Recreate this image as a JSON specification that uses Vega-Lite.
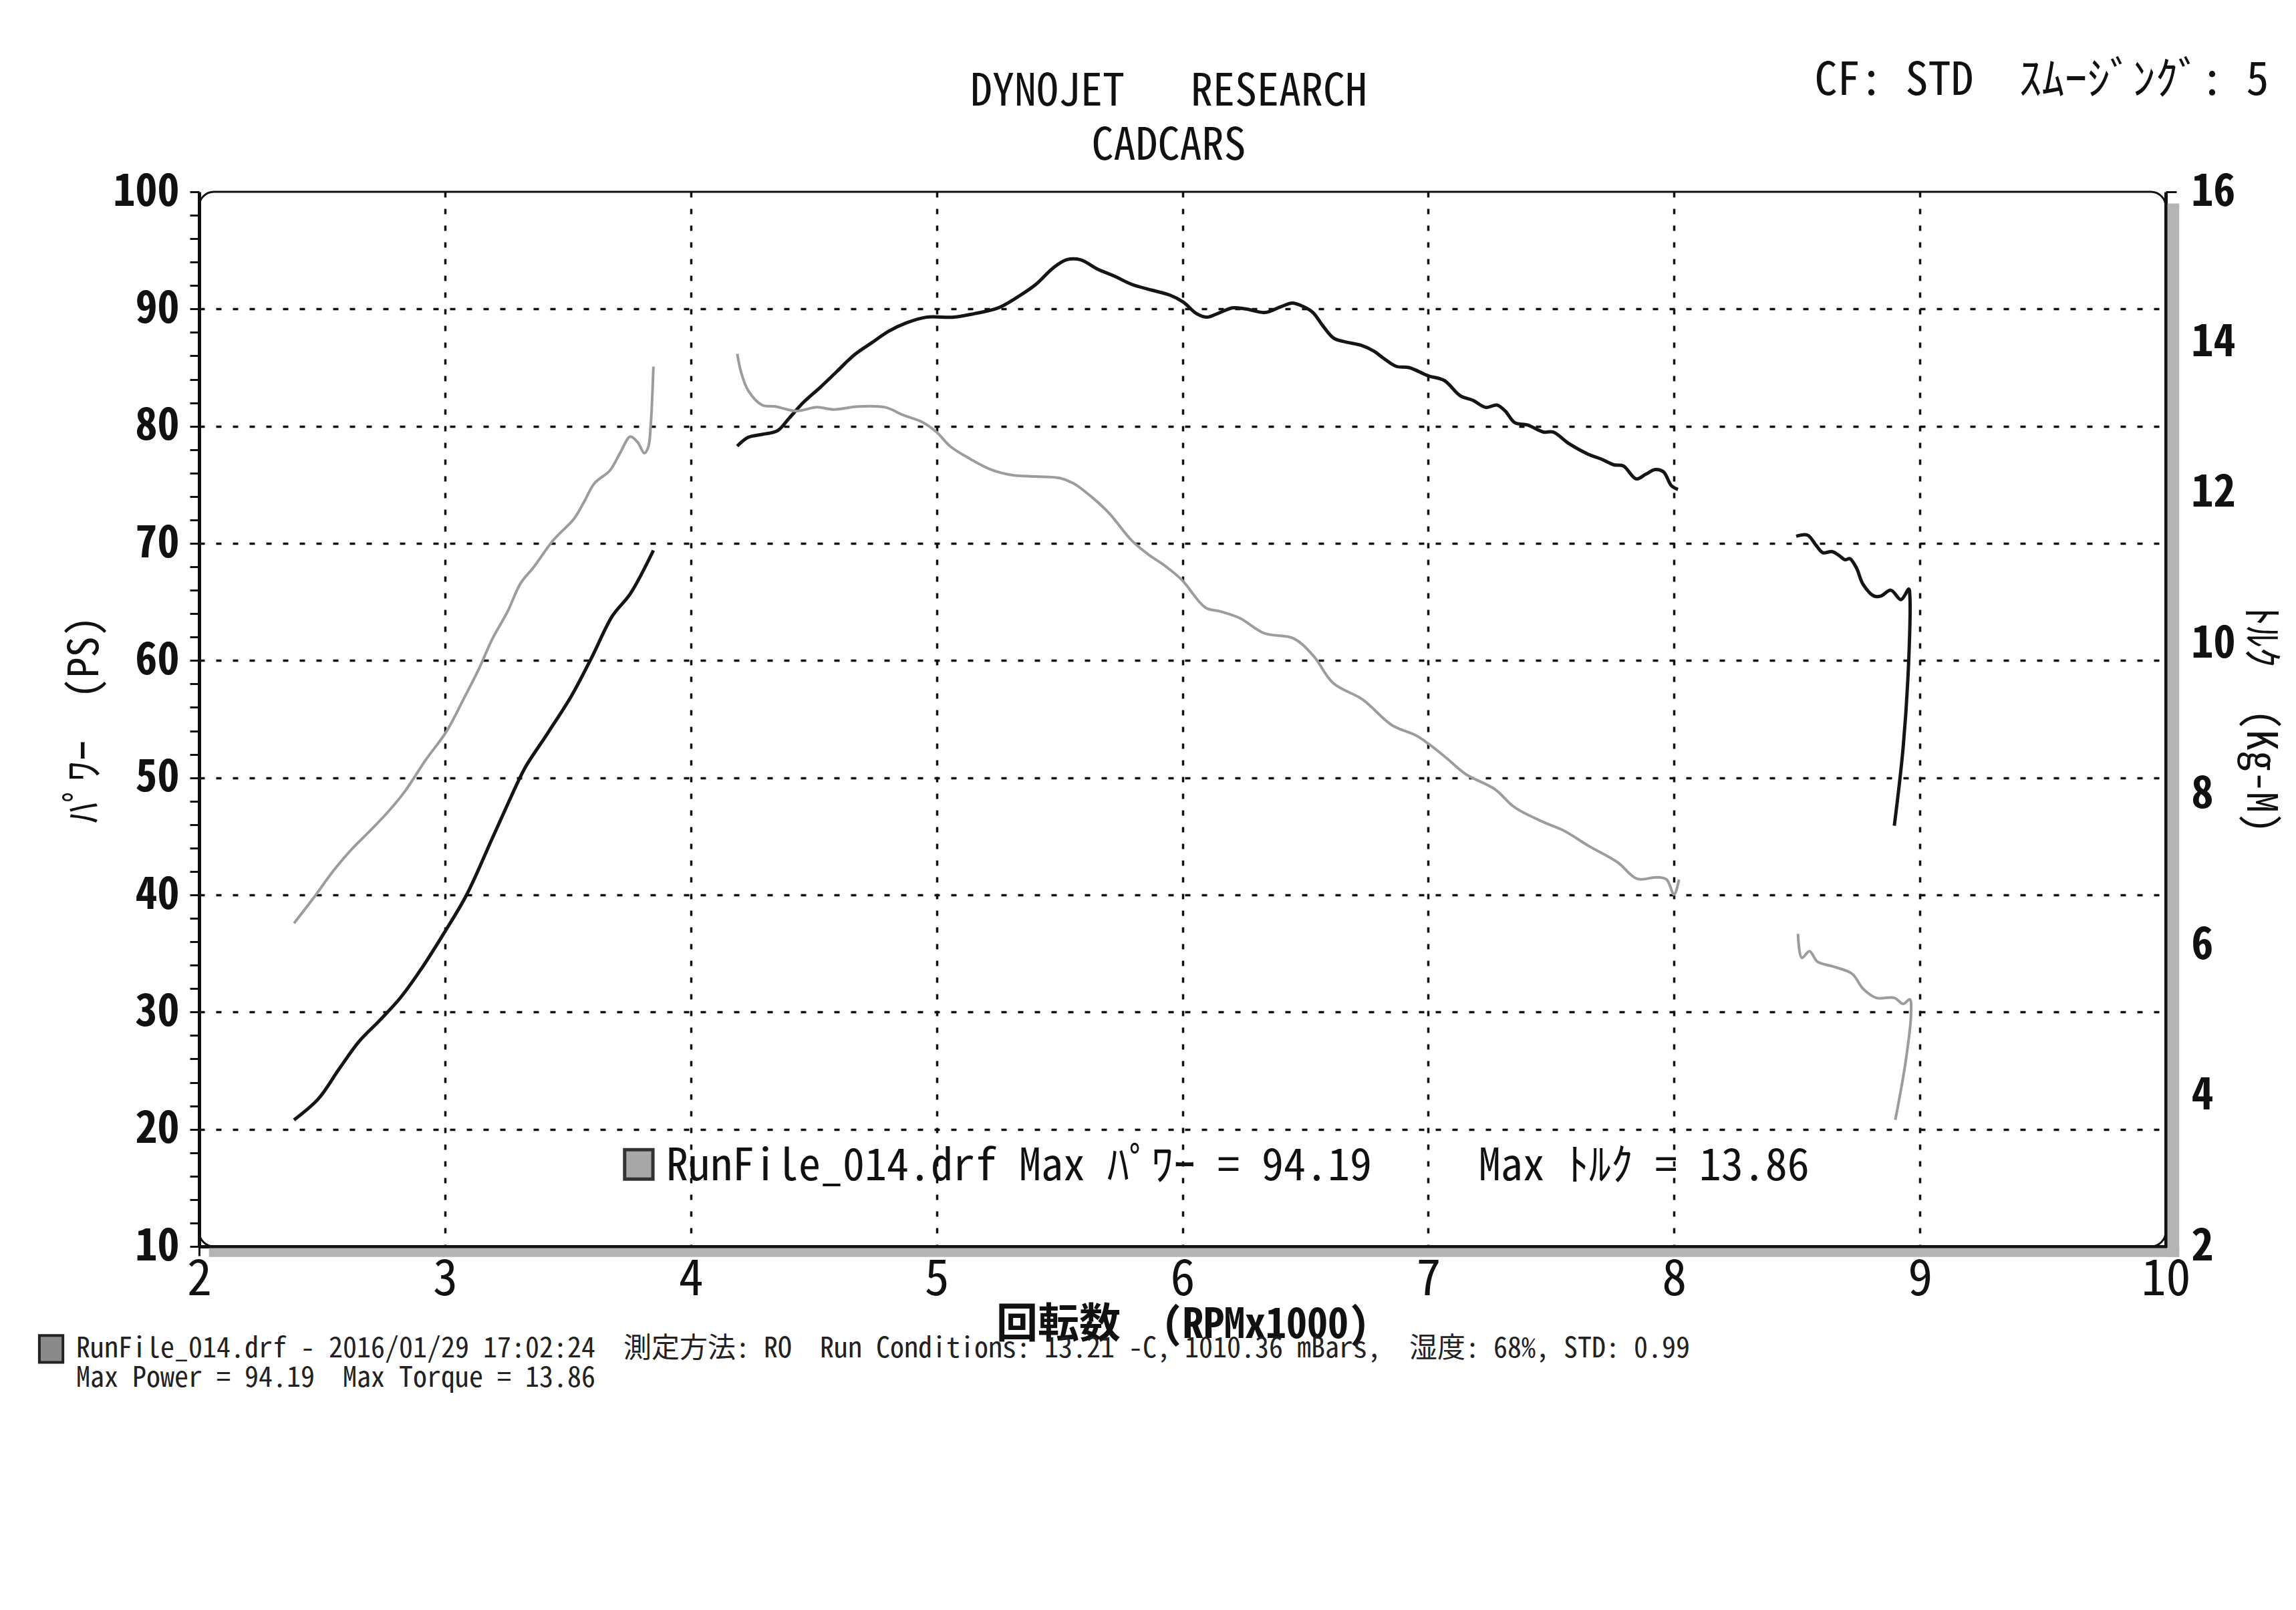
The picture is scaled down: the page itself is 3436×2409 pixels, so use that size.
{
  "$schema": "https://vega.github.io/schema/vega-lite/v6.json",
  "width": 2943,
  "height": 1578,
  "autosize": {"type": "none"},
  "padding": {"left": 298, "top": 287, "right": 195, "bottom": 544},
  "background": "white",
  "config": {
    "view": {"stroke": "#111", "strokeWidth": 3, "cornerRadius": 22},
    "axis": {
      "domainColor": "#111", "domainWidth": 5, "tickColor": "#111", "tickWidth": 3,
      "labelColor": "#111", "titleColor": "#111", "gridColor": "#111",
      "gridDash": [8, 17], "gridWidth": 3.5, "labelFlush": false, "labelOverlap": false
    }
  },
  "datasets": {
    "one": [{}],
    "power": [
      {"seg":"a","i":1,"rpm":2.386,"ps":20.8},{"seg":"a","i":2,"rpm":2.485,"ps":22.6},{"seg":"a","i":3,"rpm":2.568,"ps":25.1},{"seg":"a","i":4,"rpm":2.651,"ps":27.5},{"seg":"a","i":5,"rpm":2.735,"ps":29.3},{"seg":"a","i":6,"rpm":2.818,"ps":31.2},{"seg":"a","i":7,"rpm":2.901,"ps":33.6},{"seg":"a","i":8,"rpm":2.995,"ps":36.7},{"seg":"a","i":9,"rpm":3.088,"ps":40.0},{"seg":"a","i":10,"rpm":3.192,"ps":44.8},{"seg":"a","i":11,"rpm":3.296,"ps":49.6},{"seg":"a","i":12,"rpm":3.327,"ps":50.9},{"seg":"a","i":13,"rpm":3.421,"ps":53.9},{"seg":"a","i":14,"rpm":3.515,"ps":57.0},{"seg":"a","i":15,"rpm":3.598,"ps":60.3},{"seg":"a","i":16,"rpm":3.681,"ps":63.8},{"seg":"a","i":17,"rpm":3.754,"ps":65.7},{"seg":"a","i":18,"rpm":3.848,"ps":69.4},
      {"seg":"b","i":19,"rpm":4.189,"ps":78.3},{"seg":"b","i":20,"rpm":4.234,"ps":79.05},{"seg":"b","i":21,"rpm":4.29,"ps":79.3},{"seg":"b","i":22,"rpm":4.352,"ps":79.6},{"seg":"b","i":23,"rpm":4.401,"ps":80.7},{"seg":"b","i":24,"rpm":4.457,"ps":82.0},{"seg":"b","i":25,"rpm":4.526,"ps":83.3},{"seg":"b","i":26,"rpm":4.596,"ps":84.7},{"seg":"b","i":27,"rpm":4.666,"ps":86.1},{"seg":"b","i":28,"rpm":4.735,"ps":87.1},{"seg":"b","i":29,"rpm":4.805,"ps":88.1},{"seg":"b","i":30,"rpm":4.875,"ps":88.8},{"seg":"b","i":31,"rpm":4.958,"ps":89.3},{"seg":"b","i":32,"rpm":5.07,"ps":89.3},{"seg":"b","i":33,"rpm":5.153,"ps":89.6},{"seg":"b","i":34,"rpm":5.251,"ps":90.1},{"seg":"b","i":35,"rpm":5.32,"ps":90.9},{"seg":"b","i":36,"rpm":5.404,"ps":92.1},{"seg":"b","i":37,"rpm":5.474,"ps":93.5},{"seg":"b","i":38,"rpm":5.529,"ps":94.2},{"seg":"b","i":39,"rpm":5.585,"ps":94.2},{"seg":"b","i":40,"rpm":5.655,"ps":93.4},{"seg":"b","i":41,"rpm":5.724,"ps":92.8},{"seg":"b","i":42,"rpm":5.794,"ps":92.1},{"seg":"b","i":43,"rpm":5.877,"ps":91.6},{"seg":"b","i":44,"rpm":5.947,"ps":91.2},{"seg":"b","i":45,"rpm":6.003,"ps":90.6},{"seg":"b","i":46,"rpm":6.058,"ps":89.6},{"seg":"b","i":47,"rpm":6.1,"ps":89.3},{"seg":"b","i":48,"rpm":6.142,"ps":89.6},{"seg":"b","i":49,"rpm":6.206,"ps":90.1},{"seg":"b","i":50,"rpm":6.258,"ps":90.0},{"seg":"b","i":51,"rpm":6.336,"ps":89.7},{"seg":"b","i":52,"rpm":6.401,"ps":90.2},{"seg":"b","i":53,"rpm":6.447,"ps":90.5},{"seg":"b","i":54,"rpm":6.492,"ps":90.2},{"seg":"b","i":55,"rpm":6.531,"ps":89.7},{"seg":"b","i":56,"rpm":6.57,"ps":88.6},{"seg":"b","i":57,"rpm":6.616,"ps":87.5},{"seg":"b","i":58,"rpm":6.661,"ps":87.2},{"seg":"b","i":59,"rpm":6.727,"ps":86.9},{"seg":"b","i":60,"rpm":6.779,"ps":86.4},{"seg":"b","i":61,"rpm":6.818,"ps":85.8},{"seg":"b","i":62,"rpm":6.87,"ps":85.1},{"seg":"b","i":63,"rpm":6.922,"ps":85.0},{"seg":"b","i":64,"rpm":7.0,"ps":84.3},{"seg":"b","i":65,"rpm":7.065,"ps":83.9},{"seg":"b","i":66,"rpm":7.13,"ps":82.6},{"seg":"b","i":67,"rpm":7.182,"ps":82.2},{"seg":"b","i":68,"rpm":7.234,"ps":81.6},{"seg":"b","i":69,"rpm":7.28,"ps":81.8},{"seg":"b","i":70,"rpm":7.313,"ps":81.3},{"seg":"b","i":71,"rpm":7.352,"ps":80.3},{"seg":"b","i":72,"rpm":7.404,"ps":80.1},{"seg":"b","i":73,"rpm":7.469,"ps":79.5},{"seg":"b","i":74,"rpm":7.508,"ps":79.5},{"seg":"b","i":75,"rpm":7.573,"ps":78.5},{"seg":"b","i":76,"rpm":7.651,"ps":77.6},{"seg":"b","i":77,"rpm":7.703,"ps":77.2},{"seg":"b","i":78,"rpm":7.755,"ps":76.7},{"seg":"b","i":79,"rpm":7.794,"ps":76.6},{"seg":"b","i":80,"rpm":7.846,"ps":75.5},{"seg":"b","i":81,"rpm":7.885,"ps":75.9},{"seg":"b","i":82,"rpm":7.924,"ps":76.3},{"seg":"b","i":83,"rpm":7.957,"ps":76.1},{"seg":"b","i":84,"rpm":7.99,"ps":74.9},{"seg":"b","i":85,"rpm":8.016,"ps":74.6},
      {"seg":"c","i":86,"rpm":8.497,"ps":70.6},{"seg":"c","i":87,"rpm":8.543,"ps":70.7},{"seg":"c","i":88,"rpm":8.579,"ps":69.8},{"seg":"c","i":89,"rpm":8.606,"ps":69.2},{"seg":"c","i":90,"rpm":8.642,"ps":69.3},{"seg":"c","i":91,"rpm":8.669,"ps":69.0},{"seg":"c","i":92,"rpm":8.696,"ps":68.6},{"seg":"c","i":93,"rpm":8.715,"ps":68.7},{"seg":"c","i":94,"rpm":8.742,"ps":67.9},{"seg":"c","i":95,"rpm":8.769,"ps":66.5},{"seg":"c","i":96,"rpm":8.814,"ps":65.5},{"seg":"c","i":97,"rpm":8.841,"ps":65.5},{"seg":"c","i":98,"rpm":8.882,"ps":66.0},{"seg":"c","i":99,"rpm":8.923,"ps":65.2},{"seg":"c","i":100,"rpm":8.955,"ps":66.1},{"seg":"c","i":101,"rpm":8.959,"ps":65.6},{"seg":"c","i":102,"rpm":8.955,"ps":60.2},{"seg":"c","i":103,"rpm":8.932,"ps":52.6},{"seg":"c","i":104,"rpm":8.896,"ps":45.9}
    ],
    "torque": [
      {"seg":"a","i":1,"rpm":2.386,"tq":6.29},{"seg":"a","i":2,"rpm":2.464,"tq":6.62},{"seg":"a","i":3,"rpm":2.547,"tq":6.99},{"seg":"a","i":4,"rpm":2.62,"tq":7.27},{"seg":"a","i":5,"rpm":2.693,"tq":7.51},{"seg":"a","i":6,"rpm":2.766,"tq":7.76},{"seg":"a","i":7,"rpm":2.839,"tq":8.05},{"seg":"a","i":8,"rpm":2.922,"tq":8.46},{"seg":"a","i":9,"rpm":3.005,"tq":8.83},{"seg":"a","i":10,"rpm":3.078,"tq":9.28},{"seg":"a","i":11,"rpm":3.14,"tq":9.68},{"seg":"a","i":12,"rpm":3.192,"tq":10.06},{"seg":"a","i":13,"rpm":3.255,"tq":10.43},{"seg":"a","i":14,"rpm":3.307,"tq":10.8},{"seg":"a","i":15,"rpm":3.359,"tq":11.01},{"seg":"a","i":16,"rpm":3.442,"tq":11.38},{"seg":"a","i":17,"rpm":3.525,"tq":11.66},{"seg":"a","i":18,"rpm":3.567,"tq":11.89},{"seg":"a","i":19,"rpm":3.608,"tq":12.13},{"seg":"a","i":20,"rpm":3.671,"tq":12.3},{"seg":"a","i":21,"rpm":3.712,"tq":12.53},{"seg":"a","i":22,"rpm":3.754,"tq":12.75},{"seg":"a","i":23,"rpm":3.785,"tq":12.67},{"seg":"a","i":24,"rpm":3.811,"tq":12.53},{"seg":"a","i":25,"rpm":3.827,"tq":12.61},{"seg":"a","i":26,"rpm":3.837,"tq":12.9},{"seg":"a","i":27,"rpm":3.848,"tq":13.68},
      {"seg":"b","i":28,"rpm":4.189,"tq":13.85},{"seg":"b","i":29,"rpm":4.206,"tq":13.59},{"seg":"b","i":30,"rpm":4.234,"tq":13.36},{"seg":"b","i":31,"rpm":4.29,"tq":13.17},{"seg":"b","i":32,"rpm":4.345,"tq":13.15},{"seg":"b","i":33,"rpm":4.429,"tq":13.09},{"seg":"b","i":34,"rpm":4.513,"tq":13.14},{"seg":"b","i":35,"rpm":4.582,"tq":13.11},{"seg":"b","i":36,"rpm":4.68,"tq":13.15},{"seg":"b","i":37,"rpm":4.791,"tq":13.14},{"seg":"b","i":38,"rpm":4.861,"tq":13.04},{"seg":"b","i":39,"rpm":4.944,"tq":12.94},{"seg":"b","i":40,"rpm":5.0,"tq":12.81},{"seg":"b","i":41,"rpm":5.056,"tq":12.62},{"seg":"b","i":42,"rpm":5.139,"tq":12.45},{"seg":"b","i":43,"rpm":5.223,"tq":12.31},{"seg":"b","i":44,"rpm":5.306,"tq":12.24},{"seg":"b","i":45,"rpm":5.404,"tq":12.22},{"seg":"b","i":46,"rpm":5.501,"tq":12.2},{"seg":"b","i":47,"rpm":5.557,"tq":12.13},{"seg":"b","i":48,"rpm":5.627,"tq":11.96},{"seg":"b","i":49,"rpm":5.7,"tq":11.74},{"seg":"b","i":50,"rpm":5.794,"tq":11.37},{"seg":"b","i":51,"rpm":5.864,"tq":11.18},{"seg":"b","i":52,"rpm":5.914,"tq":11.07},{"seg":"b","i":53,"rpm":5.947,"tq":10.99},{"seg":"b","i":54,"rpm":6.0,"tq":10.84},{"seg":"b","i":55,"rpm":6.094,"tq":10.48},{"seg":"b","i":56,"rpm":6.154,"tq":10.43},{"seg":"b","i":57,"rpm":6.234,"tq":10.34},{"seg":"b","i":58,"rpm":6.333,"tq":10.14},{"seg":"b","i":59,"rpm":6.453,"tq":10.07},{"seg":"b","i":60,"rpm":6.533,"tq":9.84},{"seg":"b","i":61,"rpm":6.613,"tq":9.48},{"seg":"b","i":62,"rpm":6.733,"tq":9.26},{"seg":"b","i":63,"rpm":6.852,"tq":8.92},{"seg":"b","i":64,"rpm":6.952,"tq":8.78},{"seg":"b","i":65,"rpm":7.002,"tq":8.67},{"seg":"b","i":66,"rpm":7.072,"tq":8.49},{"seg":"b","i":67,"rpm":7.152,"tq":8.27},{"seg":"b","i":68,"rpm":7.271,"tq":8.07},{"seg":"b","i":69,"rpm":7.351,"tq":7.83},{"seg":"b","i":70,"rpm":7.471,"tq":7.63},{"seg":"b","i":71,"rpm":7.551,"tq":7.52},{"seg":"b","i":72,"rpm":7.651,"tq":7.32},{"seg":"b","i":73,"rpm":7.77,"tq":7.1},{"seg":"b","i":74,"rpm":7.85,"tq":6.88},{"seg":"b","i":75,"rpm":7.93,"tq":6.9},{"seg":"b","i":76,"rpm":7.97,"tq":6.87},{"seg":"b","i":77,"rpm":8.0,"tq":6.67},{"seg":"b","i":78,"rpm":8.02,"tq":6.87},
      {"seg":"c","i":79,"rpm":8.504,"tq":6.15},{"seg":"c","i":80,"rpm":8.52,"tq":5.83},{"seg":"c","i":81,"rpm":8.551,"tq":5.92},{"seg":"c","i":82,"rpm":8.583,"tq":5.78},{"seg":"c","i":83,"rpm":8.642,"tq":5.72},{"seg":"c","i":84,"rpm":8.724,"tq":5.62},{"seg":"c","i":85,"rpm":8.769,"tq":5.42},{"seg":"c","i":86,"rpm":8.823,"tq":5.3},{"seg":"c","i":87,"rpm":8.896,"tq":5.3},{"seg":"c","i":88,"rpm":8.932,"tq":5.22},{"seg":"c","i":89,"rpm":8.959,"tq":5.28},{"seg":"c","i":90,"rpm":8.964,"tq":5.08},{"seg":"c","i":91,"rpm":8.941,"tq":4.43},{"seg":"c","i":92,"rpm":8.9,"tq":3.68}
    ]
  },
  "layer": [
    {
      "data": {"name": "power"},
      "mark": {"type": "line", "color": "#151515", "strokeWidth": 5, "interpolate": "catmull-rom"},
      "encoding": {
        "x": {
          "field": "rpm", "type": "quantitative", "scale": {"domain": [2, 10]},
          "axis": {
            "orient": "bottom",
            "values": [2,2.2,2.4,2.6,2.8,3,3.2,3.4,3.6,3.8,4,4.2,4.4,4.6,4.8,5,5.2,5.4,5.6,5.8,6,6.2,6.4,6.6,6.8,7,7.2,7.4,7.6,7.8,8,8.2,8.4,8.6,8.8,9,9.2,9.4,9.6,9.8,10],
            "labelExpr": "abs(datum.value - round(datum.value)) < 0.01 ? format(datum.value, 'd') : ''",
            "labelFont": "Noto Sans Mono CJK JP, Noto Sans CJK JP, sans-serif",
            "labelFontSize": 74, "labelPadding": 0, "tickSize": 14,
            "title": "回転数\u00a0 (RPMx1000)",
            "titleFont": "Noto Sans Mono CJK JP, Noto Sans CJK JP, sans-serif",
            "titleFontSize": 62, "titleFontWeight": "bold", "titlePadding": 0,
            "grid": true,
            "gridOpacity": {"condition": {"test": "abs(datum.value - round(datum.value)) > 0.01 || datum.value < 2.5 || datum.value > 9.5", "value": 0}, "value": 1},
            "encode": {"ticks": {"update": {"y": {"value": -14}, "y2": {"value": 14}}}}
          }
        },
        "y": {
          "field": "ps", "type": "quantitative", "scale": {"domain": [10, 100]},
          "axis": {
            "orient": "left",
            "values": [10,12,14,16,18,20,22,24,26,28,30,32,34,36,38,40,42,44,46,48,50,52,54,56,58,60,62,64,66,68,70,72,74,76,78,80,82,84,86,88,90,92,94,96,98,100],
            "labelExpr": "datum.value % 10 == 0 ? '' + datum.value : ''",
            "labelFont": "Noto Sans Mono CJK JP, Noto Sans CJK JP, sans-serif",
            "labelFontSize": 66, "labelFontWeight": "bold", "labelPadding": 16, "tickSize": 14,
            "title": "ﾊﾟﾜｰ\u00a0 (PS)",
            "titleFont": "Noto Sans Mono CJK JP, Noto Sans CJK JP, sans-serif",
            "titleFontSize": 62, "titleFontWeight": "normal", "titlePadding": 10,
            "grid": true,
            "gridOpacity": {"condition": {"test": "datum.value % 10 != 0 || datum.value < 15 || datum.value > 95", "value": 0}, "value": 1},
            "encode": {"ticks": {"update": {"x": {"value": 14}, "x2": {"value": -14}}}}
          }
        },
        "detail": {"field": "seg"},
        "order": {"field": "i", "type": "quantitative"}
      }
    },
    {
      "data": {"name": "torque"},
      "mark": {"type": "line", "color": "#9c9c9c", "strokeWidth": 4, "interpolate": "catmull-rom"},
      "encoding": {
        "x": {"field": "rpm", "type": "quantitative", "scale": {"domain": [2, 10]}, "axis": null},
        "y": {
          "field": "tq", "type": "quantitative", "scale": {"domain": [2, 16]},
          "axis": {
            "orient": "right",
            "values": [2,2.5,3,3.5,4,4.5,5,5.5,6,6.5,7,7.5,8,8.5,9,9.5,10,10.5,11,11.5,12,12.5,13,13.5,14,14.5,15,15.5,16],
            "labelExpr": "datum.value % 2 == 0 ? '' + datum.value : ''",
            "labelFont": "Noto Sans Mono CJK JP, Noto Sans CJK JP, sans-serif",
            "labelFontSize": 66, "labelFontWeight": "bold", "labelPadding": 22, "tickSize": 16,
            "title": "ﾄﾙｸ\u00a0 (Kg-M)",
            "titleFont": "Noto Sans Mono CJK JP, Noto Sans CJK JP, sans-serif",
            "titleFontSize": 62, "titleFontWeight": "normal", "titlePadding": 4,
            "grid": false,
            "encode": {"ticks": {"update": {"x": {"value": -14}, "x2": {"value": 16}}}}
          }
        },
        "detail": {"field": "seg"},
        "order": {"field": "i", "type": "quantitative"}
      }
    },
    {
      "data": {"name": "one"},
      "mark": {"type": "rect", "color": "#b4b4b4"},
      "encoding": {
        "x": {"datum": 2.04, "type": "quantitative", "scale": {"domain": [2, 10]}, "axis": null},
        "x2": {"datum": 10.055},
        "y": {"datum": 9.86, "type": "quantitative", "scale": {"domain": [10, 100]}, "axis": null},
        "y2": {"datum": 9.1}
      }
    },
    {
      "data": {"name": "one"},
      "mark": {"type": "rect", "color": "#b4b4b4"},
      "encoding": {
        "x": {"datum": 10.007, "type": "quantitative", "scale": {"domain": [2, 10]}, "axis": null},
        "x2": {"datum": 10.055},
        "y": {"datum": 99.0, "type": "quantitative", "scale": {"domain": [10, 100]}, "axis": null},
        "y2": {"datum": 9.1}
      }
    },
    {
      "data": {"name": "one"},
      "mark": {"type": "text", "text": "DYNOJET\u00a0\u00a0 RESEARCH", "align": "center", "baseline": "middle", "fontSize": 66, "font": "Noto Sans Mono CJK JP, Noto Sans CJK JP, sans-serif", "color": "#111"},
      "encoding": {
        "x": {"datum": 5.944, "type": "quantitative", "scale": {"domain": [2, 10]}, "axis": null},
        "y": {"datum": 108.5, "type": "quantitative", "scale": {"domain": [10, 100]}, "axis": null}
      }
    },
    {
      "data": {"name": "one"},
      "mark": {"type": "text", "text": "CADCARS", "align": "center", "baseline": "middle", "fontSize": 66, "font": "Noto Sans Mono CJK JP, Noto Sans CJK JP, sans-serif", "color": "#111"},
      "encoding": {
        "x": {"datum": 5.944, "type": "quantitative", "scale": {"domain": [2, 10]}, "axis": null},
        "y": {"datum": 103.9, "type": "quantitative", "scale": {"domain": [10, 100]}, "axis": null}
      }
    },
    {
      "data": {"name": "one"},
      "mark": {"type": "text", "text": "CF: STD\u00a0 ｽﾑｰｼﾞﾝｸﾞ: 5", "align": "right", "baseline": "middle", "fontSize": 68, "font": "Noto Sans Mono CJK JP, Noto Sans CJK JP, sans-serif", "color": "#111"},
      "encoding": {
        "x": {"datum": 10.42, "type": "quantitative", "scale": {"domain": [2, 10]}, "axis": null},
        "y": {"datum": 109.4, "type": "quantitative", "scale": {"domain": [10, 100]}, "axis": null}
      }
    },
    {
      "data": {"name": "one"},
      "mark": {"type": "rect", "fill": "#a8a8a8", "stroke": "#333", "strokeWidth": 5},
      "encoding": {
        "x": {"datum": 3.731, "type": "quantitative", "scale": {"domain": [2, 10]}, "axis": null},
        "x2": {"datum": 3.846},
        "y": {"datum": 15.75, "type": "quantitative", "scale": {"domain": [10, 100]}, "axis": null},
        "y2": {"datum": 18.25}
      }
    },
    {
      "data": {"name": "one"},
      "mark": {"type": "text", "text": "RunFile_014.drf Max ﾊﾟﾜｰ = 94.19", "align": "left", "baseline": "middle", "fontSize": 66, "font": "Noto Sans Mono CJK JP, Noto Sans CJK JP, sans-serif", "color": "#111"},
      "encoding": {
        "x": {"datum": 3.9, "type": "quantitative", "scale": {"domain": [2, 10]}, "axis": null},
        "y": {"datum": 16.8, "type": "quantitative", "scale": {"domain": [10, 100]}, "axis": null}
      }
    },
    {
      "data": {"name": "one"},
      "mark": {"type": "text", "text": "Max ﾄﾙｸ = 13.86", "align": "left", "baseline": "middle", "fontSize": 66, "font": "Noto Sans Mono CJK JP, Noto Sans CJK JP, sans-serif", "color": "#111"},
      "encoding": {
        "x": {"datum": 7.205, "type": "quantitative", "scale": {"domain": [2, 10]}, "axis": null},
        "y": {"datum": 16.8, "type": "quantitative", "scale": {"domain": [10, 100]}, "axis": null}
      }
    },
    {
      "data": {"name": "one"},
      "mark": {"type": "rect", "fill": "#8a8a8a", "stroke": "#222", "strokeWidth": 4},
      "encoding": {
        "x": {"datum": 1.35, "type": "quantitative", "scale": {"domain": [2, 10]}, "axis": null},
        "x2": {"datum": 1.446},
        "y": {"datum": 0.1, "type": "quantitative", "scale": {"domain": [10, 100]}, "axis": null},
        "y2": {"datum": 2.4}
      }
    },
    {
      "data": {"name": "one"},
      "mark": {"type": "text", "text": "RunFile_014.drf - 2016/01/29 17:02:24\u00a0 測定方法: RO\u00a0 Run Conditions: 13.21 -C, 1010.36 mBars,\u00a0 湿度: 68%, STD: 0.99", "align": "left", "baseline": "middle", "fontSize": 42, "font": "Noto Sans Mono CJK JP, Noto Sans CJK JP, sans-serif", "color": "#222"},
      "encoding": {
        "x": {"datum": 1.5, "type": "quantitative", "scale": {"domain": [2, 10]}, "axis": null},
        "y": {"datum": 1.25, "type": "quantitative", "scale": {"domain": [10, 100]}, "axis": null}
      }
    },
    {
      "data": {"name": "one"},
      "mark": {"type": "text", "text": "Max Power = 94.19\u00a0 Max Torque = 13.86", "align": "left", "baseline": "middle", "fontSize": 42, "font": "Noto Sans Mono CJK JP, Noto Sans CJK JP, sans-serif", "color": "#222"},
      "encoding": {
        "x": {"datum": 1.5, "type": "quantitative", "scale": {"domain": [2, 10]}, "axis": null},
        "y": {"datum": -1.25, "type": "quantitative", "scale": {"domain": [10, 100]}, "axis": null}
      }
    }
  ],
  "resolve": {"scale": {"x": "independent", "y": "independent"}}
}
